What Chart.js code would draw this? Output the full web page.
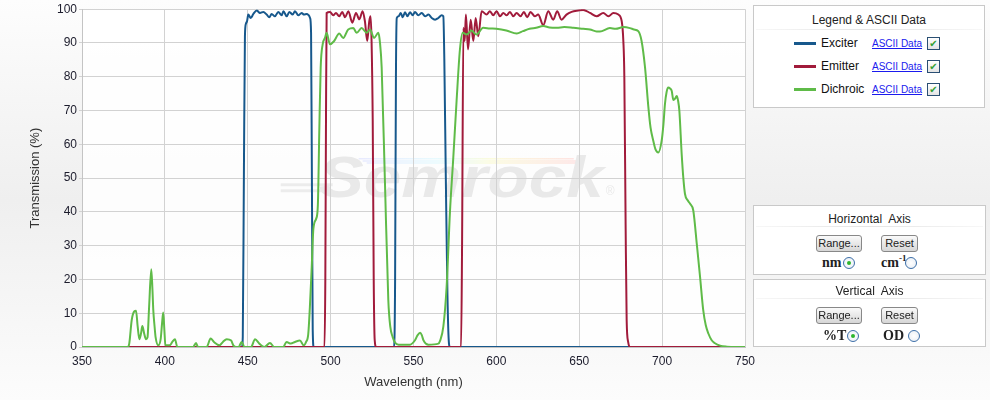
<!DOCTYPE html>
<html><head><meta charset="utf-8">
<script src="https://cdn.jsdelivr.net/npm/chart.js@4/dist/chart.umd.min.js"></script>
<style>
html,body{margin:0;padding:0;}
body{width:990px;height:400px;overflow:hidden;position:relative;background:linear-gradient(to bottom,#fdfdfd 0%,#efefef 50%,#fcfcfc 100%);font-family:Arial,"Liberation Sans",sans-serif;}
#chartBox{position:absolute;left:0;top:0;width:990px;height:400px;}
.panel{position:absolute;background:#fff;border:1px solid #c9c9c9;box-sizing:border-box;}
.ptitle{position:absolute;left:0;right:0;text-align:center;font-size:12px;line-height:16px;color:#222;}
.psep{position:absolute;left:2px;right:2px;height:1px;background:linear-gradient(to right,#f7f7f7,#e4e4e4 50%,#f7f7f7);}
.row{position:absolute;left:0;right:0;height:23px;}
.swatch{position:absolute;left:40px;top:10px;width:22px;height:3px;}
.name{position:absolute;left:67px;top:0;line-height:23px;font-size:12px;color:#111;}
.ascii{position:absolute;left:118px;top:0;line-height:23px;font-size:10px;color:#1a1aee;text-decoration:underline;}
.chk{position:absolute;left:173px;top:5px;width:11px;height:11px;border:1px solid #2a4f73;background:linear-gradient(#fff,#e4e4e4);font-size:10px;line-height:11px;text-align:center;color:#33a033;font-family:"DejaVu Sans",sans-serif;}
.btn{position:absolute;height:15px;border:1px solid #888;border-radius:3px;background:linear-gradient(#fafafa,#d6d6d6);font-size:11px;line-height:15px;text-align:center;color:#222;}
.rl{position:absolute;font-family:"Liberation Serif","Times New Roman",serif;font-weight:bold;font-size:14px;color:#222;line-height:16px;}
.rl sup{font-size:9px;line-height:0;}
.radio{position:absolute;width:10px;height:10px;border:1px solid #3d6fa8;border-radius:50%;background:radial-gradient(#fff,#e6ecf3);}
.radio.on::after{content:"";position:absolute;left:3px;top:3px;width:4px;height:4px;border-radius:50%;background:#2db52d;}
</style>
</head>
<body>
<div id="chartBox"><canvas id="c" width="990" height="400"></canvas></div>

<div class="panel" id="legendPanel" style="left:753px;top:5px;width:232px;height:103px;">
  <div class="ptitle" style="top:6px;">Legend &amp; ASCII Data</div>
  <div class="psep" style="top:23px;"></div>
</div>

<div class="panel" style="left:753px;top:205px;width:233px;height:70px;">
  <div class="ptitle" style="top:5px;">Horizontal&nbsp; Axis</div>
  <div class="psep" style="top:20px;"></div>
  <div class="btn" style="left:62px;top:29px;width:44px;">Range...</div>
  <div class="btn" style="left:127px;top:29px;width:35px;">Reset</div>
  <div class="rl" style="left:68px;top:49px;">nm</div>
  <div class="radio on" style="left:89px;top:51px;"></div>
  <div class="rl" style="left:127px;top:49px;">cm<sup>-1</sup></div>
  <div class="radio" style="left:151px;top:51px;"></div>
</div>

<div class="panel" style="left:753px;top:279px;width:233px;height:68px;">
  <div class="ptitle" style="top:3px;">Vertical&nbsp; Axis</div>
  <div class="psep" style="top:18px;"></div>
  <div class="btn" style="left:62px;top:27px;width:44px;">Range...</div>
  <div class="btn" style="left:127px;top:27px;width:35px;">Reset</div>
  <div class="rl" style="left:69px;top:48px;">%T</div>
  <div class="radio on" style="left:93px;top:50px;"></div>
  <div class="rl" style="left:129px;top:48px;">OD</div>
  <div class="radio" style="left:154px;top:50px;"></div>
</div>

<script>
// ---- axis ticks ----
const xTicks = [350, 400, 450, 500, 550, 600, 650, 700, 750];
const yTicks = [0, 10, 20, 30, 40, 50, 60, 70, 80, 90, 100];

// ---- series ----
const seriesNames = ['Exciter', 'Emitter', 'Dichroic'];
const seriesColors = ['#17588c', '#a11b3b', '#5fbb48'];

const exciterNm = [350,446.5,447,447.7,448.3,448.9,449.6,450.3,451.8,453.4,455.4,457.4,459.4,461.4,463,464.4,466.4,468.4,470.5,471.5,473.5,475.1,477.1,478.5,480.5,482.5,483.9,485.6,486.8,487.6,488.2,488.7,489.2,489.8,538.3,538.9,539.4,539.9,541,542.3,543.5,544.9,546.3,547.9,549.5,550.9,552.9,555,557,559,561,563,565,567,568,568.6,569.5,570.5,571.4,572,750];
const exciterT = [0,0,3,53,92,95.7,96.5,98.4,97.4,98.6,99.6,98.9,99.2,98.4,97.6,98.6,97.9,99.2,98.2,99.4,97.9,99.2,98.4,99.4,98.2,98.9,98.4,98.6,98.2,97.4,93,50,5,0,0,20,80,97.4,97.9,98.9,97.6,99.1,97.9,99.1,98.2,99.2,98.2,98.9,97.9,98.4,97.4,96.9,97.4,98.2,97.9,85,50,15,1,0,0];

const emitterNm = [350,496.3,496.8,497.2,497.6,499.6,501.6,503.2,505.2,507,508.7,510.7,513.1,515.3,517.3,519.3,520.7,522.1,523.3,524.1,524.7,525.4,526,526.6,527.5,578.7,579.3,580.1,580.9,581.6,582.9,584.5,586.1,587.5,589.1,591.1,594.1,596.1,598.1,600.1,602.2,604.2,606.2,608.2,610.2,612.2,614.6,616.6,618.6,620.6,623.2,625.2,628.3,631.3,634.3,636.7,639.3,642.3,645.4,649.4,652.4,656.5,660.5,664.5,667.6,670.6,673.6,675.6,676.6,677.2,678,678.6,679.5,680.6,750];
const emitterT = [0,0,20,67,98.9,99.2,98.2,98.9,97.9,99.2,97.6,99.4,96,98.9,97,99.4,96.4,90.6,96.4,97.9,90.6,67,20,2,0,0,30,94.5,90.6,98.4,88.1,96.9,90.6,97.4,92,99.4,98.4,99.4,98.2,99.4,97.9,98.9,98.2,99.2,97.9,98.9,97.9,99.2,97.6,99.2,97.9,98.4,95.3,99.4,96.9,99.4,96.9,98.4,99.2,99.6,99.8,98.9,97.9,98.9,97.9,98.9,98.4,96.5,90.6,80,35,8,1.5,0,0];

const dichroicNm = [350,377.5,378.5,380,381.5,382.6,383.6,384.6,385.6,386.4,387.5,388.6,389.5,390.5,391.8,392.5,393,393.8,394.4,396,397.5,398.3,399,399.7,400.3,402.9,404.5,406.1,407.5,417,418.8,420,425.2,427.6,429.6,433,435,437.3,440,441.3,443,444.5,446.3,448,452,454.4,457,460,463.4,466,471.4,473.4,476,478.5,481.5,483.8,485.2,486.5,487.5,488.6,489.6,491.3,492.3,493.2,494,495.2,496.6,497.6,499.6,502,505.2,507.6,510.6,513.7,515.7,518.7,521.8,523.8,526.2,528.8,529.8,530.8,532.8,534.8,536,537.4,539,541,547.9,550.9,552.5,554,555,556,559,565,566,568,570,572,574,576,578,579.7,582,585,588,592,596,600,606,612.3,616,620,624,628.3,632,636.4,641,646.4,652.4,656.5,660.5,662.5,668.5,672,676.6,680.6,683,685.6,687.6,689.7,691.7,693,694.7,696,697.7,699.7,700.8,701.7,702.7,703.7,704.8,705.8,706.8,707.8,708.8,709.6,710.4,711.8,712.8,713.8,715.3,716.9,718.8,720.9,722.9,724.8,726.3,727.9,729.9,731.9,735,739,745,750];
const dichroicT = [0,0,1,8,10.5,10.7,6,2.3,4,6.2,4,2.3,2.8,12,23,17,11,6,2.9,0.5,2.5,7,10.2,5,0.5,0.5,1.5,2.3,0,0,1.2,0,0,2.5,1.5,0.5,1.5,2.3,1.9,0.5,0,0,1.5,0,0,2.3,1,0,1.2,0,0,1.5,1,1.5,1.9,0.5,1.5,3.8,12,23.7,35,38,42,65,82.7,89.6,91.5,93,89.6,90.5,92.8,91.5,94,94.4,93,94.4,93,94,91.5,93,90,82.7,48.3,13.9,6,3,1.2,0.7,0.7,2,3.5,4.2,3.5,2,0.7,1,1.8,6,18,40,56,72.9,88,93,92.5,93.7,92.5,94.5,94.3,94.2,93.7,92.8,93.5,94.2,94.5,95,94.6,94.5,94.7,94.5,94.2,94,93.4,93.4,94.4,94.2,94.7,94.4,94,93.5,90.6,82.7,71,65,61,58.5,57.6,61,66,71.9,75.5,76.8,76.5,75.8,73.1,73.5,74.3,73,69.9,57.1,50,45.3,43.5,42.4,40.4,30.6,20.7,10.9,6.5,4,2,1.1,0.4,0.1,0,0];

const seriesX = [exciterNm, emitterNm, dichroicNm];
const seriesY = [exciterT, emitterT, dichroicT];

function toPoints(xs, ys) {
  const n = Math.min(xs.length, ys.length);
  const pts = [];
  for (let i = 0; i < n; i++) pts.push({x: xs[i], y: ys[i]});
  return pts;
}

// HTML legend built from the series arrays
const lp = document.getElementById('legendPanel');
seriesNames.forEach((name, i) => {
  const row = document.createElement('div');
  row.className = 'row';
  row.style.top = (26 + i * 23) + 'px';
  row.innerHTML = '<div class="swatch" style="background:' + seriesColors[i] + '"></div>' +
    '<span class="name">' + name + '</span>' +
    '<a class="ascii" href="#">ASCII Data</a>' +
    '<span class="chk">\u2714</span>';
  lp.appendChild(row);
});

const FONT = 'Arial, "Liberation Sans", sans-serif';

const backdrop = {
  id: 'backdrop',
  beforeDraw(chart) {
    const {ctx, chartArea: a} = chart;
    const w = a.right - a.left, h = a.bottom - a.top;
    ctx.save();
    ctx.fillStyle = 'rgba(255,255,255,0.85)';
    ctx.fillRect(a.left, a.top, w, h);
    // watermark
    const wx = a.left + w * 0.357, wy = a.top + h * 0.555, ww = w * 0.43;
    // rainbow streaks
    const g = ctx.createLinearGradient(wx + 40, 0, wx + ww - 25, 0);
    g.addColorStop(0, 'rgba(150,160,255,0.22)');
    g.addColorStop(0.35, 'rgba(150,235,255,0.22)');
    g.addColorStop(0.6, 'rgba(245,245,140,0.3)');
    g.addColorStop(1, 'rgba(255,160,160,0.3)');
    ctx.strokeStyle = g;
    ctx.lineWidth = 1.5;
    for (let k = 0; k < 3; k++) {
      ctx.beginPath();
      ctx.moveTo(wx + 40 + k * 4, wy - 38 + k * 2.2);
      ctx.lineTo(wx + ww - 30 + k * 3, wy - 38 + k * 2.2);
      ctx.stroke();
    }
    // speed lines
    ctx.strokeStyle = '#ececec';
    ctx.lineWidth = 3;
    for (let k = 0; k < 2; k++) {
      ctx.beginPath();
      ctx.moveTo(wx - 38, wy - 12 + k * 6);
      ctx.lineTo(wx + 14, wy - 12 + k * 6);
      ctx.stroke();
    }
    ctx.font = 'italic bold 58px ' + FONT;
    ctx.textBaseline = 'alphabetic';
    const text = 'Semrock';
    const tw = ctx.measureText(text).width;
    ctx.translate(wx, wy);
    ctx.scale(ww / tw, 1);
    ctx.fillStyle = '#e9e9e9';
    ctx.fillText(text, 0, 0);
    ctx.setTransform(1, 0, 0, 1, 0, 0);
    ctx.font = '12px ' + FONT;
    ctx.fillText('\u00AE', wx + ww + 2, wy - 2);
    ctx.restore();
  }
};

new Chart(document.getElementById('c'), {
  type: 'line',
  data: {
    datasets: seriesNames.map((name, i) => ({
      label: name,
      data: toPoints(seriesX[i], seriesY[i]),
      borderColor: seriesColors[i],
      backgroundColor: seriesColors[i],
      borderWidth: 2,
      pointRadius: 0,
      fill: false,
      cubicInterpolationMode: 'monotone',
      order: 3 - i
    }))
  },
  options: {
    responsive: false,
    animation: false,
    parsing: true,
    layout: {padding: {left: 20, top: 8, right: 245, bottom: 0}},
    plugins: {legend: {display: false}, tooltip: {enabled: false}},
    scales: {
      x: {
        type: 'linear', min: 350, max: 750,
        afterBuildTicks: s => { s.ticks = xTicks.map(v => ({value: v})); },
        ticks: {font: {family: FONT, size: 12}, color: '#1c1c2c', padding: 7, maxRotation: 0, autoSkip: false},
        grid: {color: '#d2d2d2', drawTicks: false, lineWidth: 1},
        border: {color: '#c4c4c4'},
        title: {display: true, text: 'Wavelength (nm)', color: '#333', font: {family: FONT, size: 13}, padding: {top: 4, bottom: 10}},
        afterFit: s => { s.height = 53; }
      },
      y: {
        type: 'linear', min: 0, max: 100,
        afterBuildTicks: s => { s.ticks = yTicks.map(v => ({value: v})); },
        ticks: {font: {family: FONT, size: 12}, color: '#1c1c2c', padding: 2, autoSkip: false},
        grid: {color: '#d2d2d2', tickLength: 3, lineWidth: 1},
        border: {color: '#c4c4c4'},
        title: {display: true, text: 'Transmission (%)', color: '#333', font: {family: FONT, size: 13}, padding: {top: 8, bottom: 4}},
        afterFit: s => { s.width = 62; }
      }
    }
  },
  plugins: [backdrop]
});
</script>
</body></html>
